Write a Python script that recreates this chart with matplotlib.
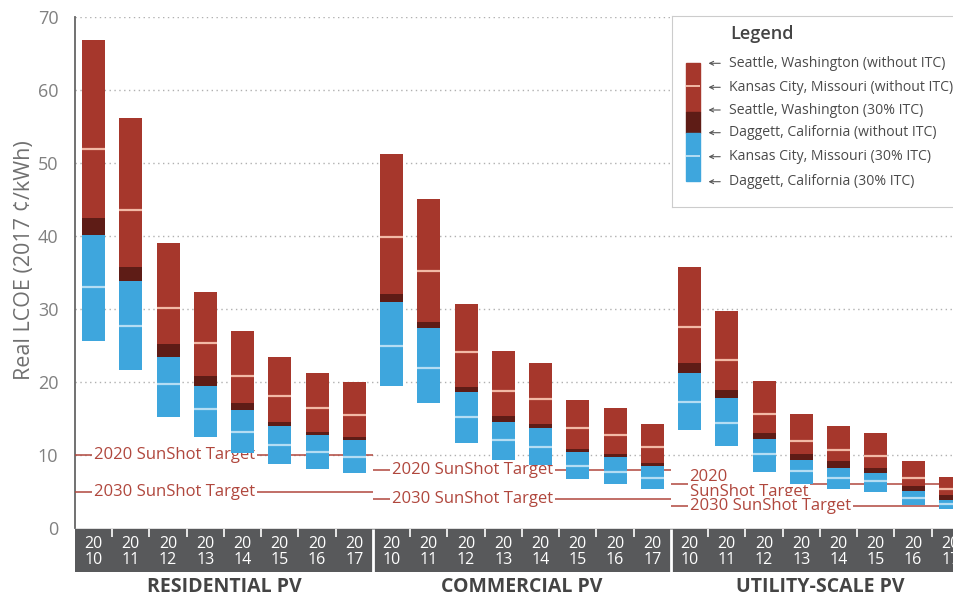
import numpy as np
import matplotlib
matplotlib.use('Agg')
import matplotlib.pyplot as plt
from matplotlib.patches import Rectangle

plt.rcParams['font.family'] = ['Open Sans', 'DejaVu Sans']

# data (real LCOE, 2017 cents/kWh)
groups = ['RESIDENTIAL PV', 'COMMERCIAL PV', 'UTILITY-SCALE PV']
years = ['2010', '2011', '2012', '2013', '2014', '2015', '2016', '2017']

seattle_noitc = [66.8, 56.2, 39.0, 32.3, 27.0, 23.4, 21.3, 20.0,
                 51.2, 45.1, 30.7, 24.2, 22.6, 17.6, 16.4, 14.3,
                 35.7, 29.8, 20.2, 15.6, 14.0, 13.1, 9.2, 7.0]
kc_noitc = [51.9, 43.6, 30.2, 25.3, 20.9, 18.1, 16.4, 15.5,
            39.9, 35.2, 24.1, 18.8, 17.7, 13.7, 12.8, 11.1,
            27.5, 23.0, 15.7, 12.0, 10.7, 9.9, 6.9, 5.3]
seattle_itc = [42.5, 35.7, 25.2, 20.8, 17.2, 14.6, 13.2, 12.5,
               32.1, 28.3, 19.4, 15.3, 14.2, 10.9, 10.1, 8.9,
               22.6, 18.9, 13.1, 10.2, 9.2, 8.3, 5.8, 4.5]
daggett_noitc = [40.1, 33.9, 23.5, 19.5, 16.2, 14.0, 12.7, 12.1,
                 31.0, 27.4, 18.6, 14.6, 13.7, 10.5, 9.8, 8.5,
                 21.3, 17.8, 12.2, 9.3, 8.3, 7.6, 5.1, 3.8]
kc_itc = [33.0, 27.7, 19.7, 16.3, 13.2, 11.4, 10.5, 9.8,
          25.0, 22.0, 15.2, 12.1, 11.1, 8.5, 7.7, 6.9,
          17.3, 14.4, 10.1, 7.8, 6.9, 6.4, 4.2, 3.3]
daggett_itc = [25.6, 21.6, 15.2, 12.5, 10.3, 8.8, 8.1, 7.6,
               19.5, 17.2, 11.7, 9.3, 8.6, 6.7, 6.1, 5.4,
               13.5, 11.2, 7.7, 6.1, 5.4, 5.0, 3.2, 2.6]

target_2020 = [10, 8, 6]
target_2030 = [5, 4, 3]
target_2020_labels = ['2020 SunShot Target', '2020 SunShot Target', '2020\nSunShot Target']
target_2030_labels = ['2030 SunShot Target'] * 3

legend_labels = ['Seattle, Washington (without ITC)',
                 'Kansas City, Missouri (without ITC)',
                 'Seattle, Washington (30% ITC)',
                 'Daggett, California (without ITC)',
                 'Kansas City, Missouri (30% ITC)',
                 'Daggett, California (30% ITC)']

RED = '#A6372C'
DARK = '#5E1C16'
BLUE = '#3EA6DD'
PINK = '#F2B9A6'
LBLUE = '#B5DDF3'
TRED = '#B0473D'
BAND = '#58595B'

fig = plt.figure(figsize=(9.54, 5.97), dpi=100)
ax = fig.add_axes([75/954, 25/597, 1 - 75/954, 555/597])

n = len(seattle_noitc)
x = np.arange(n) + 0.5
w = 0.62
top = np.array(seattle_noitc)
kcn = np.array(kc_noitc)
sit = np.array(seattle_itc)
dgn = np.array(daggett_noitc)
kci = np.array(kc_itc)
dgi = np.array(daggett_itc)

# gridlines
for v in range(10, 80, 10):
    ax.axhline(v, color='#b0b0b0', ls=(0, (1, 2.5)), lw=1, zorder=0)

ax.bar(x, dgn - dgi, bottom=dgi, width=w, color=BLUE, zorder=3)
ax.bar(x, sit - dgn, bottom=dgn, width=w, color=DARK, zorder=3)
ax.bar(x, top - sit, bottom=sit, width=w, color=RED, zorder=3)
ax.hlines(kcn, x - w/2, x + w/2, color=PINK, lw=1.6, zorder=3.5)
ax.hlines(kci, x - w/2, x + w/2, color=LBLUE, lw=1.6, zorder=3.5)

# sunshot targets (drawn under the bars)
for g in range(3):
    g0 = g * 8
    for val, lab in [(target_2020[g], target_2020_labels[g]), (target_2030[g], target_2030_labels[g])]:
        ax.hlines(val, g0, g0 + 8, color=TRED, lw=1.1, zorder=2.6)
        ax.text(g0 + 0.5, val, lab, ha='left', va='center', fontsize=12, color=TRED,
                linespacing=0.95, zorder=2.8,
                bbox=dict(facecolor='white', edgecolor='none', pad=1.5))

# bottom band with years
xmax = (954 - 75) / 37.25
ax.add_patch(Rectangle((0, -6), xmax + 1, 5.85, color=BAND, zorder=2))
ax.vlines([8, 16], -6, -0.15, color='white', lw=2, zorder=2.5)
ticks = [i for i in range(1, 24) if i % 8 != 0]
ax.vlines(ticks, -1.2, -0.15, color='white', lw=1.2, zorder=2.5)
for i in range(n):
    yr = years[i % 8]
    ax.text(x[i], -2.2, yr[:2], ha='center', va='center', color='white', fontsize=11.5, zorder=3)
    ax.text(x[i], -4.4, yr[2:], ha='center', va='center', color='white', fontsize=11.5, zorder=3)
for g in range(3):
    ax.text(g * 8 + 4, -8.1, groups[g], ha='center', va='center', fontsize=14,
            fontweight='bold', color='#444444', clip_on=False)

ax.set_xlim(0, xmax)
ax.set_ylim(-6, 70)
ax.set_yticks(range(0, 80, 10))
ax.set_xticks([])
ax.tick_params(axis='y', length=0, pad=12, labelsize=13, labelcolor='#808080')
for s in ['top', 'right', 'bottom']:
    ax.spines[s].set_visible(False)
ax.spines['left'].set_bounds(0, 70)
ax.spines['left'].set_color('#666666')
ax.spines['left'].set_linewidth(1.3)
ax.set_ylabel('Real LCOE (2017 ¢/kWh)', fontsize=15.5, color='#707070')
ax.yaxis.set_label_coords(-0.046, 0.562)

# legend box
lax = fig.add_axes([671.7/954, 1 - 206.7/597, 0.35, 190.7/597])
lax.set_xlim(671.7, 671.7 + 0.35 * 954)
lax.set_ylim(206.7, 16)
lax.set_xticks([])
lax.set_yticks([])
for s in lax.spines.values():
    s.set_color('#cccccc')
lax.text(730, 34, 'Legend', fontsize=13, fontweight='semibold', color='#444444', va='center')
lax.add_patch(Rectangle((686, 63), 14, 48.7, color=RED))
lax.add_patch(Rectangle((686, 111.7), 14, 21.6, color=DARK))
lax.add_patch(Rectangle((686, 133.3), 14, 47.4, color=BLUE))
lax.hlines(85.7, 686, 700, color=PINK, lw=1.4)
lax.hlines(156, 686, 700, color=LBLUE, lw=1.4)
rows = [63.3, 87.3, 110, 132.7, 156.7, 181.7]
for yy, lab in zip(rows, legend_labels):
    lax.annotate('', xy=(705.7, yy), xytext=(723, yy),
                 arrowprops=dict(arrowstyle='->', lw=0.8, color='#555555', mutation_scale=7))
    lax.text(729, yy, lab, fontsize=10.1, color='#4a4a4a', va='center')

fig.savefig('out.png', dpi=100)
